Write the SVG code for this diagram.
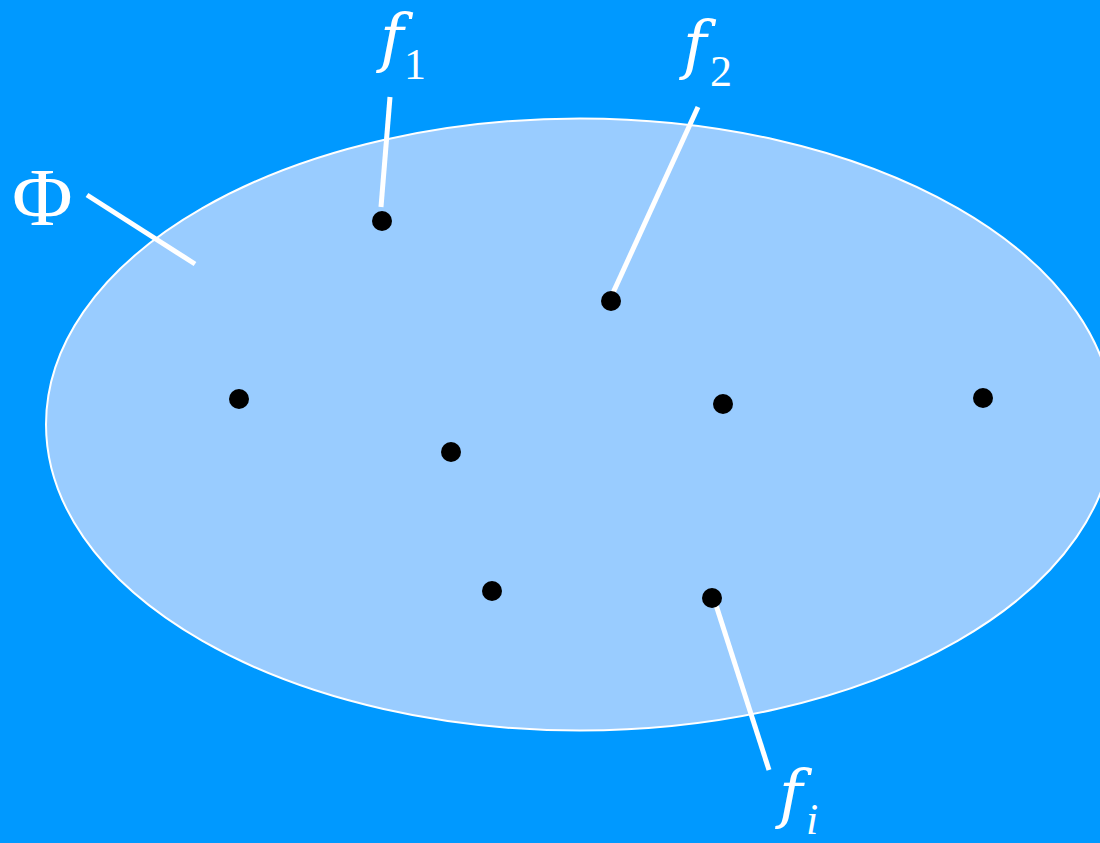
<svg xmlns="http://www.w3.org/2000/svg" width="1100" height="843" viewBox="0 0 1100 843">
<style>
.lbl{font-family:"Liberation Serif","Times New Roman",serif;fill:#fff}
.it{font-family:"DejaVu Serif",serif;font-style:italic;font-size:64px}
.sub{font-size:44px}
.lead{stroke:#fff;stroke-width:5;fill:none}
.dot{fill:#000}
</style>
<rect width="1100" height="843" fill="#0099FF"/>
<g id="set">
<ellipse cx="580" cy="424.5" rx="534" ry="306" fill="#99CCFF" stroke="#fff" stroke-width="2"/>
</g>
<g id="connectors">
<line class="lead" x1="87" y1="195" x2="195" y2="264"/>
<line class="lead" x1="390" y1="97" x2="381" y2="207"/>
<line class="lead" x1="698" y1="107" x2="612" y2="295"/>
<line class="lead" x1="716" y1="605" x2="769" y2="770"/>
</g>
<g id="points">
<circle class="dot" cx="382" cy="221" r="10"/>
<circle class="dot" cx="611" cy="301" r="10"/>
<circle class="dot" cx="239" cy="399" r="10"/>
<circle class="dot" cx="451" cy="452" r="10"/>
<circle class="dot" cx="723" cy="404" r="10"/>
<circle class="dot" cx="983" cy="398" r="10"/>
<circle class="dot" cx="492" cy="591" r="10"/>
<circle class="dot" cx="712" cy="598" r="10"/>
</g>
<g id="label-phi"><text class="lbl" x="12" y="225" font-size="83">Φ</text></g>
<g id="label-f1"><text class="lbl" x="380" y="60"><tspan class="it">f</tspan><tspan class="sub" x="404" y="79">1</tspan></text></g>
<g id="label-f2"><text class="lbl" x="683" y="67"><tspan class="it">f</tspan><tspan class="sub" x="710" y="86">2</tspan></text></g>
<g id="label-fi"><text class="lbl" x="779" y="816"><tspan class="it">f</tspan><tspan class="sub" style="font-style:italic" x="806" y="834">i</tspan></text></g>
</svg>
